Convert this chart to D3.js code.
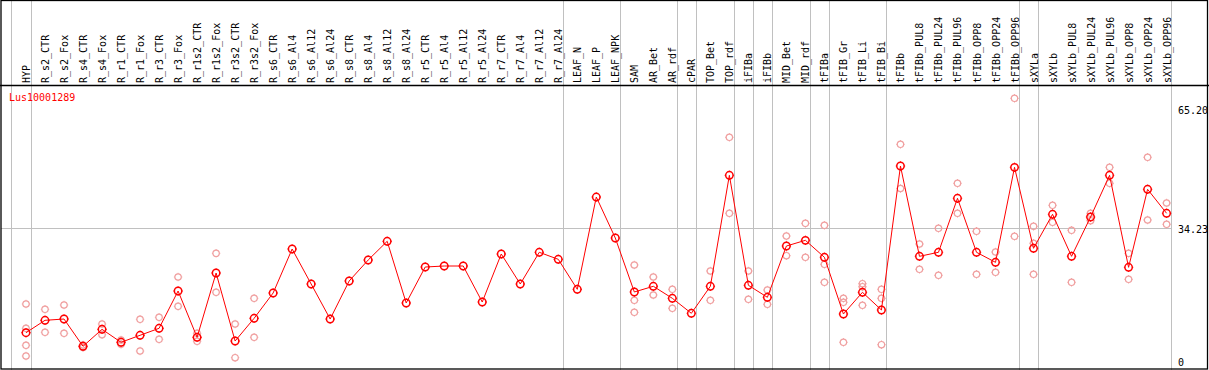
<html>
<head>
<title>Lus10001289</title>
<script src="https://d3js.org/d3.v7.min.js"></script>
<style>
body { margin: 0; background: #fff; }
text { font-family: "DejaVu Sans Mono", monospace; font-size: 10px; }
</style>
</head>
<body>
<script>
var gene = "Lus10001289";

var samples = ["HYP","R_s2_CTR","R_s2_Fox","R_s4_CTR","R_s4_Fox","R_r1_CTR","R_r1_Fox","R_r3_CTR","R_r3_Fox",
  "R_r1s2_CTR","R_r1s2_Fox","R_r3s2_CTR","R_r3s2_Fox","R_s6_CTR","R_s6_Al4","R_s6_Al12","R_s6_Al24",
  "R_s8_CTR","R_s8_Al4","R_s8_Al12","R_s8_Al24","R_r5_CTR","R_r5_Al4","R_r5_Al12","R_r5_Al24",
  "R_r7_CTR","R_r7_Al4","R_r7_Al12","R_r7_Al24","LEAF_N","LEAF_P","LEAF_NPK","SAM","AR_Bet","AR_rdf",
  "cPAR","TOP_Bet","TOP_rdf","iFIBa","iFIBb","MID_Bet","MID_rdf","tFIBa","tFIB_Gr","tFIB_Li","tFIB_Bi",
  "tFIBb","tFIBb_PUL8","tFIBb_PUL24","tFIBb_PUL96","tFIBb_OPP8","tFIBb_OPP24","tFIBb_OPP96",
  "sXYLa","sXYLb","sXYLb_PUL8","sXYLb_PUL24","sXYLb_PUL96","sXYLb_OPP8","sXYLb_OPP24","sXYLb_OPP96"];

// index of the last sample in each group (group dividers)
var groupEnds = [0, 28, 31, 34, 35, 37, 38, 39, 41, 42, 45, 52, 53, 60];

var means = [7.31, 10.51, 10.84, 3.80, 8.18, 4.83, 6.64, 8.44, 18.07, 6.12, 22.72, 5.16, 11.03,
  17.56, 28.92, 19.88, 10.84, 20.66, 26.08, 30.91, 14.98, 24.27, 24.53, 24.53, 15.23,
  27.63, 19.88, 28.07, 26.26, 18.51, 42.34, 31.76, 17.82, 19.29, 16.19,
  12.32, 19.29, 47.95, 19.55, 16.45, 29.69, 31.16, 26.78, 12.14, 17.74, 13.17,
  50.35, 27.03, 28.07, 42.01, 28.07, 25.48, 50.01,
  29.10, 37.88, 27.03, 37.18, 47.95, 24.19, 44.33, 38.14];

var replicates = [
  [14.72, 8.44, 4.05, 1.29], [13.35, 7.41], [14.46, 7.15], [4.13, 3.49], [9.55, 6.79],
  [5.42, 4.31], [10.77, 2.58], [11.28, 5.60], [21.69, 14.12], [7.15, 5.09], [27.81, 17.74],
  [9.55, 0.85], [16.19, 6.12],
  [], [], [], [], [], [], [], [], [], [], [], [], [], [], [], [], [], [], [],
  [24.79, 15.67, 12.57], [21.69, 17.04], [18.51, 13.61], [], [23.24, 15.67], [57.76, 38.14],
  [23.24, 15.93], [18.33, 14.64], [32.27, 27.19], [35.55, 26.78], [35.04, 24.97, 20.32],
  [16.19, 15.16, 4.83], [19.96, 19.18, 14.38], [18.51, 16.19, 4.21],
  [55.95, 44.54], [30.21, 23.68], [34.26, 22.13], [45.88, 38.14], [33.49, 22.39], [28.14, 22.90], [67.83, 32.20],
  [34.78, 30.39, 22.39], [40.20, 35.81], [33.75, 20.32], [38.14, 36.23], [50.01, 45.88], [27.81, 21.09],
  [52.60, 36.41], [40.80, 35.30]];

var yTicks = [0, 34.23, 65.20];
var yGrid = [34.23];

var width = 1209, height = 370;

var svg = d3.select("body").append("svg")
  .attr("width", width).attr("height", height);

var x = d3.scaleLinear().domain([0, samples.length - 1]).range([26, 1166.6]);
var y = d3.scaleLinear().domain([0, 65.2]).range([361, 108.5]);

// group dividers, full height
var dividers = [-1].concat(groupEnds);
svg.selectAll("line.div").data(dividers).enter().append("line")
  .attr("class", "div")
  .attr("x1", function(d) { return Math.round(x(d) + 4.5) + 0.5; })
  .attr("x2", function(d) { return Math.round(x(d) + 4.5) + 0.5; })
  .attr("y1", 0).attr("y2", height)
  .attr("stroke", "#c0c0c0").attr("stroke-width", 1);

// horizontal grid
svg.selectAll("line.grid").data(yGrid).enter().append("line")
  .attr("class", "grid")
  .attr("x1", 1).attr("x2", Math.round(x(samples.length - 1) + 4.5) + 0.5)
  .attr("y1", function(d) { return Math.round(y(d)) + 0.5; })
  .attr("y2", function(d) { return Math.round(y(d)) + 0.5; })
  .attr("stroke", "#c0c0c0");

// frame and header separator
svg.append("rect").attr("x", 1).attr("y", 0.5).attr("width", 1206.5).attr("height", 368.5)
  .attr("fill", "none").attr("stroke", "#000").attr("stroke-width", 1.3);
svg.append("line").attr("x1", 0).attr("x2", width).attr("y1", 85.5).attr("y2", 85.5)
  .attr("stroke", "#000").attr("stroke-width", 1.3);

// sample labels, rotated
svg.selectAll("text.lab").data(samples).enter().append("text")
  .attr("class", "lab")
  .attr("transform", function(d, i) { return "translate(" + (x(i) + 4) + ",83) rotate(-90)"; })
  .attr("fill", "#000")
  .text(function(d) { return d; });

// y labels on the right
svg.selectAll("text.ytick").data(yTicks).enter().append("text")
  .attr("class", "ytick")
  .attr("x", 1178)
  .attr("y", function(d) { return y(d) + 5; })
  .attr("fill", "#000")
  .text(function(d) { return d === 0 ? "0" : d.toFixed(2); });

// gene name
svg.append("text").attr("x", 9).attr("y", 100.5).attr("fill", "#ff0000").text(gene);

function marker(g, r, color, sw) {
  g.append("circle").attr("r", r).attr("fill", "none").attr("stroke", color).attr("stroke-width", sw);
  [[0, -1], [0, 1], [-1, 0], [1, 0]].forEach(function(v) {
    g.append("line")
      .attr("x1", v[0] * r).attr("y1", v[1] * r)
      .attr("x2", v[0] * (r + 1)).attr("y2", v[1] * (r + 1))
      .attr("stroke", color).attr("stroke-width", 1);
  });
}

// replicate points
var repPts = [];
replicates.forEach(function(arr, i) {
  arr.forEach(function(v) { repPts.push({ i: i, v: v }); });
});
svg.selectAll("g.rep").data(repPts).enter().append("g")
  .attr("class", "rep")
  .attr("transform", function(d) { return "translate(" + x(d.i) + "," + y(d.v) + ")"; })
  .each(function() { marker(d3.select(this), 3.2, "#f0a0a0", 1.2); });

// mean line
var line = d3.line()
  .x(function(d, i) { return x(i); })
  .y(function(d) { return y(d); });
svg.append("path").datum(means)
  .attr("d", line)
  .attr("fill", "none").attr("stroke", "#ff0000").attr("stroke-width", 1);

// mean points
svg.selectAll("g.mean").data(means).enter().append("g")
  .attr("class", "mean")
  .attr("transform", function(d, i) { return "translate(" + x(i) + "," + y(d) + ")"; })
  .each(function() { marker(d3.select(this), 3.7, "#ff0000", 1.5); });
</script>
</body>
</html>
